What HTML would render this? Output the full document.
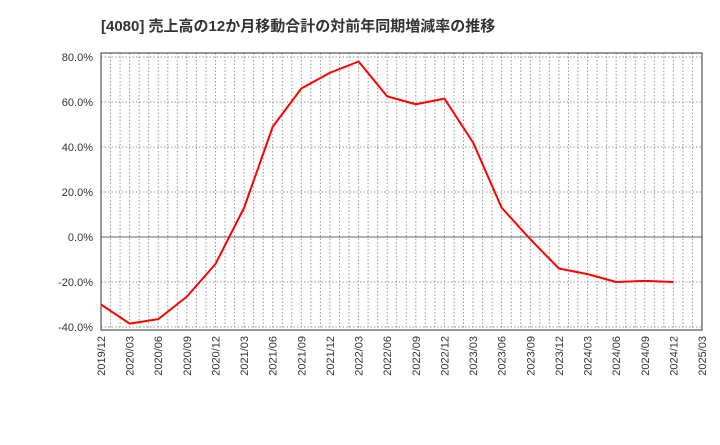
<!DOCTYPE html>
<html><head><meta charset="utf-8"><style>
body{margin:0;background:#fff;font-family:"Liberation Sans","Noto Sans CJK JP",sans-serif;}
</style></head><body>
<svg id="c" width="720" height="440" xmlns="http://www.w3.org/2000/svg">
<text x="101" y="31" font-size="15" font-weight="bold" fill="#333" font-family="Liberation Sans,Noto Sans CJK JP,sans-serif">[4080]  売上高の12か月移動合計の対前年同期増減率の推移</text>
<g id="grid"></g><g id="axes"></g><g id="series"></g>
</svg>
<script>
const categories=["2019/12","2020/03","2020/06","2020/09","2020/12","2021/03","2021/06","2021/09","2021/12","2022/03","2022/06","2022/09","2022/12","2023/03","2023/06","2023/09","2023/12","2024/03","2024/06","2024/09","2024/12"];
const values=[-30,-38.5,-36.5,-26.5,-12,13,49,66,73,78,62.5,59,61.5,42,13,-1,-14,-16.5,-20,-19.5,-20];
const xTickLabels=["2019/12","2020/03","2020/06","2020/09","2020/12","2021/03","2021/06","2021/09","2021/12","2022/03","2022/06","2022/09","2022/12","2023/03","2023/06","2023/09","2023/12","2024/03","2024/06","2024/09","2024/12","2025/03"];
const yTicks=[80,60,40,20,0,-20,-40];
const NS="http://www.w3.org/2000/svg";
const L=101,R=702,T=53,B=330;
const x=i=>L+i*(R-L)/21;
const y=v=>237-v*2.25;
function mk(t,a,p){const e=document.createElementNS(NS,t);for(const k in a)e.setAttribute(k,a[k]);p.appendChild(e);return e;}
const grid=document.getElementById('grid'),axes=document.getElementById('axes'),ser=document.getElementById('series');
for(let m=1;m<63;m++){const xx=L+m*(R-L)/63;const g=mk('line',{x1:xx,x2:xx,y1:T,y2:B,stroke:'#999','stroke-dasharray':'1.5,2','stroke-width':1},grid);

}
yTicks.forEach(v=>{const g=mk('line',{x1:L,x2:R,y1:y(v),y2:y(v),stroke:v===0?'#666':'#999','stroke-dasharray':v===0?'none':'1.5,2','stroke-width':1},grid);


const t=mk('text',{x:L-8,y:y(v)+4,'text-anchor':'end','font-size':11,fill:'#333'},axes);t.textContent=v.toFixed(1)+'%';

});
const fr=mk('rect',{x:L,y:T,width:R-L,height:B-T,fill:'none',stroke:'#333','stroke-width':1},axes);


xTickLabels.forEach((s,i)=>{const t=mk('text',{transform:`translate(${x(i)+4},${B+6}) rotate(-90)`,'text-anchor':'end','font-size':11,fill:'#333'},axes);t.textContent=s;

});
const pl=mk('polyline',{points:values.map((v,i)=>x(i)+','+y(v)).join(' '),fill:'none',stroke:'#f00','stroke-width':2,'stroke-linejoin':'round'},ser);


</script>
</body></html>
